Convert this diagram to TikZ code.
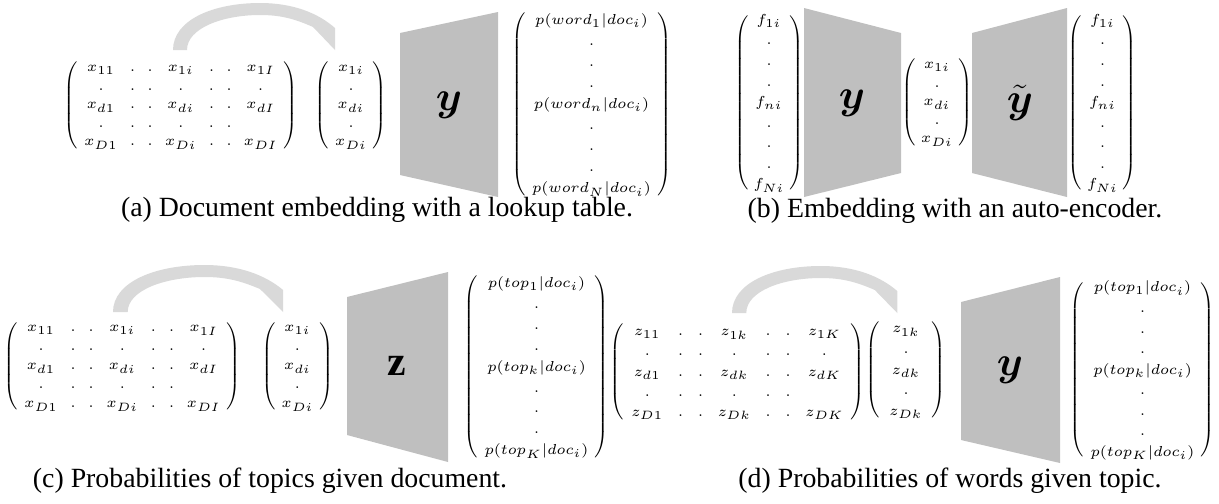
\documentclass[tikz,border=0pt]{standalone}
\usepackage{amsmath,amssymb}
\usepackage{fontspec}
\setmainfont{Liberation Serif}
\usepackage{tikz}
\usetikzlibrary{positioning, calc}
\definecolor{layergray}{RGB}{191,191,191}
\definecolor{bandgray}{RGB}{217,217,217}
\tikzstyle{vec} = [inner sep=0pt, font=\fontsize{6}{7.2}\selectfont]
\tikzstyle{layer} = [fill=layergray]
\tikzstyle{band} = [fill=bandgray]
\tikzstyle{layername} = [inner sep=0pt, font=\LARGE]
\tikzstyle{caption} = [inner sep=0pt, font=\fontsize{11.5}{13.8}\selectfont]

\begin{document}
\begin{tikzpicture}[x=0.4136pt, y=-0.4136pt]
\useasboundingbox (0,0) rectangle (1219,503);

% ===== (A) LOOKUP TABLE =====
\node (docmat_a) [vec] at (181,105) {$\arraycolsep=2.5pt\renewcommand\arraystretch{1.07}\left(\begin{array}{ccccccc}
x_{11} & . & . & x_{1i} & . & . & x_{1I}\\
. & . & . & . & . & . & .\\
x_{d1} & . & . & x_{di} & . & . & x_{dI}\\
. & . & . & . & . & . & \\
x_{D1} & . & . & x_{Di} & . & . & x_{DI}
\end{array}\right)$};
\node (docvec_a) [vec] at (351,105) {$\arraycolsep=2.5pt\renewcommand\arraystretch{1.07}\left(\begin{array}{c}
x_{1i}\\ .\\ x_{di}\\ .\\ x_{Di}
\end{array}\right)$};
\fill[layer] (400,33) -- (498,12) -- (498,197) -- (400,175) -- cycle;
\node (net_a) [layername] at (449,105) {$\boldsymbol{y}$};
\node (out_a) [vec] at (591.5,104.5) {$\arraycolsep=2.6pt\renewcommand\arraystretch{1.21}\left(\begin{array}{c}
p(word_1|doc_i)\\ .\\ .\\ .\\ p(word_n|doc_i)\\ .\\ .\\ .\\ p(word_N|doc_i)
\end{array}\right)$};
\coordinate (col_a) at (173,50);
\fill[band, shift={(col_a)}] (0,0) .. controls (0,-30) and (40,-47) .. (87,-47)
  .. controls (120,-47) and (145,-37) .. (162,-22) -- (162,0) -- (140,-23)
  .. controls (122,-31) and (108,-35) .. (87,-35) .. controls (50,-35) and (14,-22) .. (14,0) -- cycle;
\node (cap_a) [caption] at (377,210) {(a) Document embedding with a lookup table.};

% ===== (B) AUTO-ENCODER =====
\node (fin_b) [vec] at (769,102.5) {$\arraycolsep=2pt\renewcommand\arraystretch{1.18}\left(\begin{array}{c}
f_{1i}\\ .\\ .\\ .\\ f_{ni}\\ .\\ .\\ .\\ f_{Ni}
\end{array}\right)$};
\fill[layer] (804,8) -- (901,33) -- (901,173) -- (804,197) -- cycle;
\node (enc_b) [layername] at (852,103) {$\boldsymbol{y}$};
\node (code_b) [vec] at (937,102) {$\arraycolsep=2.3pt\renewcommand\arraystretch{1.07}\left(\begin{array}{c}
x_{1i}\\ .\\ x_{di}\\ .\\ x_{Di}
\end{array}\right)$};
\fill[layer] (972,33) -- (1067,8) -- (1067,197) -- (972,173) -- cycle;
\node (dec_b) [layername] at (1020,103) {$\tilde{\boldsymbol{y}}$};
\node (fout_b) [vec] at (1102.5,102.5) {$\arraycolsep=2pt\renewcommand\arraystretch{1.18}\left(\begin{array}{c}
f_{1i}\\ .\\ .\\ .\\ f_{ni}\\ .\\ .\\ .\\ f_{Ni}
\end{array}\right)$};
\node (cap_b) [caption] at (955,211) {(b) Embedding with an auto-encoder.};

% ===== (C) TOPICS GIVEN DOCUMENT =====
\node (docmat_c) [vec] at (122.5,366) {$\arraycolsep=2.6pt\renewcommand\arraystretch{1.09}\left(\begin{array}{ccccccc}
x_{11} & . & . & x_{1i} & . & . & x_{1I}\\
. & . & . & . & . & . & .\\
x_{d1} & . & . & x_{di} & . & . & x_{dI}\\
. & . & . & . & . & . & \\
x_{D1} & . & . & x_{Di} & . & . & x_{DI}
\end{array}\right)$};
\node (docvec_c) [vec] at (297.5,366) {$\arraycolsep=2.5pt\renewcommand\arraystretch{1.09}\left(\begin{array}{c}
x_{1i}\\ .\\ x_{di}\\ .\\ x_{Di}
\end{array}\right)$};
\fill[layer] (347,297) -- (448,272) -- (448,462) -- (347,435) -- cycle;
\node (net_c) [layername] at (397,366) {$\mathbf{z}$};
\node (out_c) [vec] at (536.5,367) {$\arraycolsep=2.7pt\renewcommand\arraystretch{1.2}\left(\begin{array}{c}
p(top_1|doc_i)\\ .\\ .\\ .\\ p(top_k|doc_i)\\ .\\ .\\ .\\ p(top_K|doc_i)
\end{array}\right)$};
\coordinate (col_c) at (113,312);
\fill[band, shift={(col_c)}, xscale=1.05] (0,0) .. controls (0,-30) and (40,-47) .. (87,-47)
  .. controls (120,-47) and (145,-37) .. (162,-22) -- (162,0) -- (140,-23)
  .. controls (122,-31) and (108,-35) .. (87,-35) .. controls (50,-35) and (14,-22) .. (14,0) -- cycle;
\node (cap_c) [caption] at (270,481) {(c) Probabilities of topics given document.};

% ===== (D) WORDS GIVEN TOPIC =====
\node (topmat_d) [vec] at (737.5,372) {$\arraycolsep=3pt\renewcommand\arraystretch{1.16}\left(\begin{array}{ccccccc}
z_{11} & . & . & z_{1k} & . & . & z_{1K}\\
. & . & . & . & . & . & .\\
z_{d1} & . & . & z_{dk} & . & . & z_{dK}\\
. & . & . & . & . & . & \\
z_{D1} & . & . & z_{Dk} & . & . & z_{DK}
\end{array}\right)$};
\node (topvec_d) [vec] at (906,370) {$\arraycolsep=3.8pt\renewcommand\arraystretch{1.19}\left(\begin{array}{c}
z_{1k}\\ .\\ z_{dk}\\ .\\ z_{Dk}
\end{array}\right)$};
\fill[layer] (961,302) -- (1060,277) -- (1060,463) -- (961,440) -- cycle;
\node (net_d) [layername] at (1010,370) {$\boldsymbol{y}$};
\node (out_d) [vec] at (1142.5,370) {$\arraycolsep=2.6pt\renewcommand\arraystretch{1.18}\left(\begin{array}{c}
p(top_1|doc_i)\\ .\\ .\\ .\\ p(top_k|doc_i)\\ .\\ .\\ .\\ p(top_K|doc_i)
\end{array}\right)$};
\coordinate (col_d) at (732,313);
\fill[band, shift={(col_d)}, xscale=1.02] (0,0) .. controls (0,-30) and (40,-47) .. (87,-47)
  .. controls (120,-47) and (145,-37) .. (162,-22) -- (162,0) -- (140,-23)
  .. controls (122,-31) and (108,-35) .. (87,-35) .. controls (50,-35) and (14,-22) .. (14,0) -- cycle;
\node (cap_d) [caption] at (950,481) {(d) Probabilities of words given topic.};

\end{tikzpicture}
\end{document}
